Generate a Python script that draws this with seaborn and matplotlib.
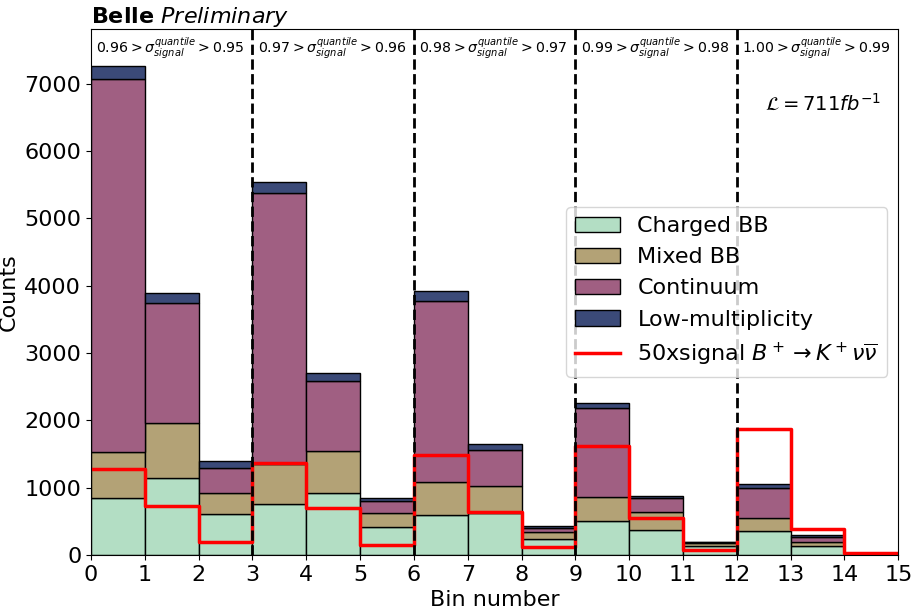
import numpy as np
import pandas as pd
import matplotlib
matplotlib.use("Agg")
import matplotlib.pyplot as plt
import seaborn as sns
from matplotlib.patches import Patch
from matplotlib.lines import Line2D

# per-bin yields (stacked components)
bin_edges = list(range(16))
charged = [850, 1150, 610, 760, 920, 420, 595, 630, 240, 510, 375, 140, 357, 134, 0]
mixed = [685, 816, 307, 588, 630, 209, 485, 395, 106, 356, 258, 34, 188, 64, 0]
continuum = [5533, 1774, 376, 4026, 1035, 178, 2695, 540, 51, 1314, 209, 15, 446, 74, 0]
lowmult = [198, 149, 99, 164, 115, 44, 145, 80, 38, 83, 39, 9, 59, 21, 0]
signal50 = [1278, 728, 189, 1367, 694, 153, 1481, 639, 124, 1624, 555, 75, 1868, 386, 25]

labels = ["Charged BB", "Mixed BB", "Continuum", "Low-multiplicity"]
colors = ["#b3dec4", "#b3a276", "#a05f82", "#3b4a78"]
quantile_lo = ["0.95", "0.96", "0.97", "0.98", "0.99"]
quantile_hi = ["0.96", "0.97", "0.98", "0.99", "1.00"]

centers = np.arange(15) + 0.5
df = pd.concat([
    pd.DataFrame({"bin": centers, "count": vals, "sample": lab})
    for lab, vals in zip(labels, [charged, mixed, continuum, lowmult])
], ignore_index=True)
sig = pd.DataFrame({"bin": centers, "count": signal50})

fig, ax = plt.subplots(figsize=(9.12, 6.12), dpi=100)
fig.subplots_adjust(left=0.0998, right=0.985, bottom=0.093, top=0.9526)

# seaborn stacks the last hue level at the bottom
sns.histplot(data=df, x="bin", weights="count", hue="sample",
             hue_order=labels[::-1], palette=dict(zip(labels, colors)),
             bins=bin_edges, multiple="stack", element="bars",
             edgecolor="black", linewidth=1, alpha=1, legend=False, ax=ax)

sns.histplot(data=sig, x="bin", weights="count", bins=bin_edges, element="step",
             fill=False, color="red", linewidth=2.5, ax=ax)

for xv in [3, 6, 9, 12]:
    ax.axvline(xv, color="black", linestyle="--", linewidth=2)

for i, (hi, lo) in enumerate(zip(quantile_hi, quantile_lo)):
    ax.text(3 * i + 0.1, 7530,
            r"$%s > \sigma_{signal}^{quantile} > %s$" % (hi, lo),
            fontsize=10.2, ha="left", va="center")

ax.text(12.52, 6690, r"$\mathcal{L} = 711 fb^{-1}$", fontsize=14, ha="left", va="center")

ax.set_xlim(0, 15)
ax.set_ylim(0, 7810)
ax.set_xticks(range(16))
ax.set_yticks(range(0, 8000, 1000))
ax.tick_params(labelsize=16)
ax.set_xlabel("Bin number", fontsize=16)
ax.set_ylabel("Counts", fontsize=16)
ax.set_title(r"$\bf{Belle}$ $\it{Preliminary}$", loc="left", fontsize=16, pad=4)

handles = [Patch(facecolor=c, edgecolor="black", label=l) for l, c in zip(labels, colors)]
handles.append(Line2D([], [], color="red", linewidth=2.5,
                      label=r"50xsignal $B^+ \rightarrow K^+ \nu \overline{\nu}$"))
ax.legend(handles=handles, loc="center right", fontsize=16)

fig.savefig("out.png", dpi=100)
